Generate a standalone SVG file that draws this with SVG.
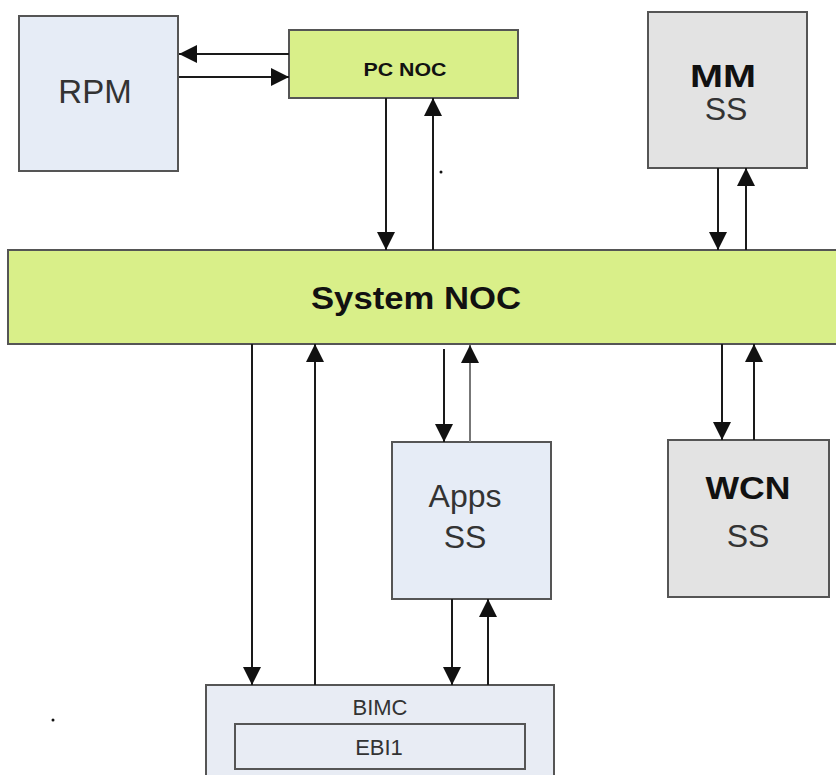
<svg xmlns="http://www.w3.org/2000/svg" width="836" height="775" viewBox="0 0 836 775">
<style>
.box{stroke:#555;stroke-width:2}
.blue{fill:#e6ecf6}
.gray{fill:#e3e3e3}
.green{fill:#d9ef89}
.ar{font-family:"Liberation Sans",Arial,sans-serif;fill:#333;text-anchor:middle}
.b{font-weight:bold;fill:#111}
.cal{font-family:"Liberation Sans",Arial,sans-serif;text-anchor:middle;fill:#111;font-weight:bold}
.con line{stroke:#1a1a1a;stroke-width:2;marker-end:url(#ah)}
</style>
<defs>
<marker id="ah" markerUnits="userSpaceOnUse" markerWidth="19" markerHeight="19" refX="18" refY="9" orient="auto" viewBox="0 0 19 18">
<path d="M0,0 L18,9 L0,18 z" fill="#111"/>
</marker>
</defs>
<rect width="836" height="775" fill="#fff"/>
<g id="rpm"><rect class="box blue" x="19" y="16" width="159" height="155"/><text class="ar" x="95" y="103" font-size="33">RPM</text></g>
<g id="pcnoc"><rect class="box green" x="289" y="30" width="229" height="68"/><text class="cal" x="405" y="76" font-size="19" textLength="83" lengthAdjust="spacingAndGlyphs">PC NOC</text></g>
<g id="mmss"><rect class="box gray" x="648" y="12" width="159" height="156"/><text class="ar b" x="723" y="87" font-size="32" textLength="66" lengthAdjust="spacingAndGlyphs">MM</text><text class="ar" x="726" y="120" font-size="32">SS</text></g>
<g id="sysnoc"><rect class="box green" x="8" y="250" width="840" height="94"/><text class="cal" x="416" y="309" font-size="32" textLength="210" lengthAdjust="spacingAndGlyphs">System NOC</text></g>
<g id="apps"><rect class="box blue" x="392" y="442" width="159" height="157"/><text class="ar" x="465" y="507" font-size="32">Apps</text><text class="ar" x="465" y="548" font-size="32">SS</text></g>
<g id="wcn"><rect class="box gray" x="668" y="440" width="161" height="157"/><text class="ar b" x="748" y="499" font-size="32" textLength="85" lengthAdjust="spacingAndGlyphs">WCN</text><text class="ar" x="748" y="547" font-size="32">SS</text></g>
<g id="bimc"><rect class="box" fill="#e8ecf4" x="206" y="685" width="348" height="100"/><text class="ar" x="380" y="715" font-size="22">BIMC</text>
<g id="ebi1"><rect class="box" fill="#e8ecf4" x="235" y="724" width="290" height="45"/><text class="ar" x="379" y="755" font-size="22">EBI1</text></g></g>
<g id="connectors" class="con">
<line x1="289" y1="54" x2="179" y2="54"/>
<line x1="179" y1="77" x2="289" y2="77"/>
<line x1="386" y1="98" x2="386" y2="250"/>
<line x1="433" y1="250" x2="433" y2="98"/>
<line x1="718" y1="168" x2="718" y2="250"/>
<line x1="746" y1="250" x2="746" y2="168"/>
<line x1="252" y1="344" x2="252" y2="685"/>
<line x1="315" y1="685" x2="315" y2="344"/>
<line x1="444" y1="349" x2="444" y2="442"/>
<line x1="470" y1="442" x2="470" y2="345" style="stroke:#777"/>
<line x1="722" y1="344" x2="722" y2="440"/>
<line x1="754" y1="440" x2="754" y2="344"/>
<line x1="452" y1="599" x2="452" y2="685"/>
<line x1="488" y1="685" x2="488" y2="599"/>
</g>
<circle cx="441" cy="172" r="1.5" fill="#111"/>
<circle cx="53" cy="720" r="1.5" fill="#111"/>
</svg>
